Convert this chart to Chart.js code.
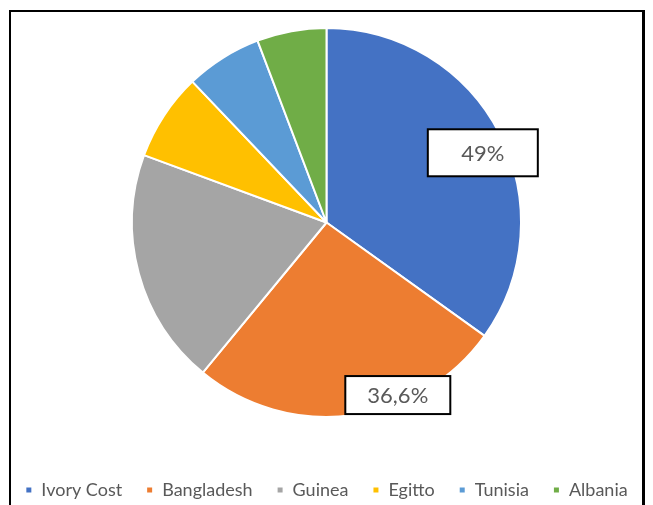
<!DOCTYPE html>
<html>
<head>
<meta charset="utf-8">
<script src="https://cdn.jsdelivr.net/npm/chart.js@4/dist/chart.umd.min.js"></script>
<style>
    html, body { margin: 0; padding: 0; background: #fff; overflow: hidden; }
    #wrap { position: relative; width: 653px; height: 505px; }
    #frame {
        position: absolute; left: 9px; top: 10px; width: 636px; height: 520px;
        border: 2px solid #000; border-right-width: 3px; box-sizing: border-box;
    }
    canvas { position: absolute; left: 0; top: 0; }
</style>
</head>
<body>
<div id="wrap">
    <div id="frame"></div>
    <canvas id="pie" width="653" height="509"></canvas>
</div>
<script>
const countries = ['Ivory Cost', 'Bangladesh', 'Guinea', 'Egitto', 'Tunisia', 'Albania'];
const shares = [49, 36.6, 27.6, 10.2, 8.9, 8.1];
const sliceColors = ['#4472C4', '#ED7D31', '#A5A5A5', '#FFC000', '#5B9BD5', '#70AD47'];

// callouts: slice index, text, where along the slice (0..1) and how far out (radius fraction)
const callouts = [
    { index: 0, text: '49%', along: 0.525, out: 0.88, w: 110, h: 47 },
    { index: 1, text: '36,6%', along: 0.34, out: 0.96, w: 105, h: 38 },
];

const calloutPlugin = {
    id: 'callouts',
    afterDatasetsDraw(chart) {
        const ctx = chart.ctx;
        const arcs = chart.getDatasetMeta(0).data;
        ctx.save();
        callouts.forEach(c => {
            const arc = arcs[c.index];
            const p = arc.getProps(['x', 'y', 'startAngle', 'endAngle', 'outerRadius'], true);
            const a = p.startAngle + c.along * (p.endAngle - p.startAngle);
            const cx = p.x + Math.cos(a) * p.outerRadius * c.out;
            const cy = p.y + Math.sin(a) * p.outerRadius * c.out;
            ctx.fillStyle = '#fff';
            ctx.fillRect(cx - c.w / 2, cy - c.h / 2, c.w, c.h);
            ctx.strokeStyle = '#000';
            ctx.lineWidth = 2;
            ctx.strokeRect(cx - c.w / 2, cy - c.h / 2, c.w, c.h);
            ctx.fillStyle = '#595959';
            ctx.font = '22px Lato';
            ctx.textAlign = 'center';
            ctx.textBaseline = 'middle';
            ctx.fillText(c.text, cx, cy + 1);
        });
        ctx.restore();
    }
};

new Chart(document.getElementById('pie'), {
    type: 'pie',
    data: {
        labels: countries,
        datasets: [{
            data: shares,
            backgroundColor: sliceColors,
            borderColor: '#fff',
            borderWidth: 2,
        }],
    },
    options: {
        responsive: false,
        animation: false,
        layout: { padding: { top: 27, bottom: 0, left: 0, right: 0 } },
        plugins: {
            tooltip: { enabled: false },
            legend: {
                position: 'bottom',
                title: { display: true, text: ' ', font: { size: 10, lineHeight: 1 }, padding: { top: 29, bottom: 0 } },
                labels: {
                    boxWidth: 7,
                    boxHeight: 7,
                    padding: 24,
                    color: '#595959',
                    font: { family: 'Lato', size: 18 },
                },
            },
        },
    },
    plugins: [calloutPlugin],
});
</script>
</body>
</html>
